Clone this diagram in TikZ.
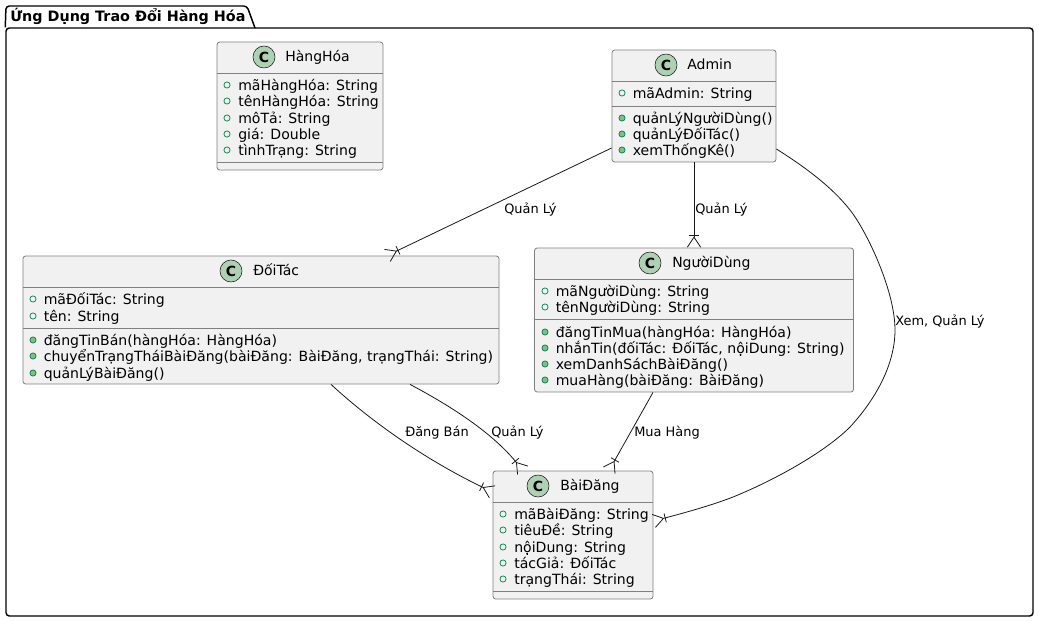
\documentclass[tikz,border=0pt]{standalone}
\usepackage{fontspec}
\setmainfont{DejaVu Sans}
\usetikzlibrary{arrows.meta,fit}
\definecolor{boxfill}{HTML}{F1F1F1}
\definecolor{boxline}{HTML}{808080}
\definecolor{inkline}{HTML}{181818}
\definecolor{badgefill}{HTML}{ADD1B2}
\definecolor{markgreen}{HTML}{038048}
\definecolor{markfill}{HTML}{84BE84}
\tikzset{
	classbox/.style={draw=boxline, fill=boxfill, line width=0.6pt, rounded corners=2pt, inner sep=0pt},
	divider/.style={boxline, line width=0.6pt},
	badge/.style={circle, draw=inkline, fill=badgefill, line width=0.4pt, minimum size=16.5pt, inner sep=0pt, font=\fontsize{10.5}{12}\selectfont\bfseries},
	classname/.style={anchor=west, inner sep=0pt, text height=8pt, text depth=2pt, font=\fontsize{10.5}{12}\selectfont},
	member/.style={anchor=west, inner sep=0pt, text height=8pt, text depth=2pt, font=\fontsize{10.55}{12}\selectfont},
	fieldmark/.style={circle, draw=markgreen, line width=0.55pt, minimum size=4.6pt, inner sep=0pt},
	methodmark/.style={circle, draw=markgreen, fill=markfill, line width=0.55pt, minimum size=4.6pt, inner sep=0pt},
	edgelabel/.style={anchor=west, inner sep=0pt, text height=7.5pt, text depth=2pt, font=\fontsize{9.7}{12}\selectfont},
	link/.style={inkline, line width=0.6pt, -{Bar[width=6.8pt,line width=0.6pt,sep=0.5pt]Straight Barb[reversed,length=7.5pt,width=10pt,line width=0.6pt]}},
}
\begin{document}
\begin{tikzpicture}[x=0.75pt, y=-0.75pt]
	\useasboundingbox (0,0) rectangle (1039,621);
	% package
	\node[draw=black, line width=1.1pt, rounded corners=2.5pt, inner sep=0pt, fit={(6,28) (1033,616)}] (package) {};
	\draw[black, line width=1.1pt, rounded corners=2.5pt] (package.north west) -- (6,6) -- (247,6) -- (255,28);
	\node[anchor=west, inner sep=0pt, font=\fontsize{10.75}{12}\selectfont\bfseries] (packagename) at (10,16) {Ứng Dụng Trao Đổi Hàng Hóa};
	% HangHoa
	\node[classbox, fit={(217,42) (383,170)}] (hanghoa) {};
	\node[badge] (hanghoaC) at (264,57) {C};
	\node[classname] (hanghoaT) at (285,57.5) {HàngHóa};
	\draw[divider] (hanghoa.west |- 0,73) -- (hanghoa.east |- 0,73);
	\draw[divider] (hanghoa.west |- 0,162) -- (hanghoa.east |- 0,162);
	\foreach \y/\txt in {85/mãHàngHóa: String, 101/tênHàngHóa: String, 118/môTả: String, 134/giá: Double, 150/tìnhTrạng: String} {
		\node[fieldmark] (hanghoaF\y) at (227,\y) {};
		\node[member] (hanghoaM\y) at (238,\y+1.2) {\txt};
	}
	% Admin
	\node[classbox, fit={(612,50) (776,162)}] (admin) {};
	\node[badge] (adminC) at (666,65) {C};
	\node[classname] (adminT) at (687,65.5) {Admin};
	\draw[divider] (admin.west |- 0,81) -- (admin.east |- 0,81);
	\draw[divider] (admin.west |- 0,106) -- (admin.east |- 0,106);
	\foreach \y/\txt in {93/mãAdmin: String} {
		\node[fieldmark] (adminF\y) at (622,\y) {};
		\node[member] (adminM\y) at (632.5,\y+1.2) {\txt};
	}
	\foreach \y/\txt in {118/quảnLýNgườiDùng(), 134/quảnLýĐốiTác(), 150/xemThốngKê()} {
		\node[methodmark] (adminF\y) at (622,\y) {};
		\node[member] (adminM\y) at (632.5,\y+1.2) {\txt};
	}
	% DoiTac
	\node[classbox, fit={(23,256) (499,384)}] (doitac) {};
	\node[badge] (doitacC) at (231,271) {C};
	\node[classname] (doitacT) at (253,271.5) {ĐốiTác};
	\draw[divider] (doitac.west |- 0,287) -- (doitac.east |- 0,287);
	\draw[divider] (doitac.west |- 0,328) -- (doitac.east |- 0,328);
	\foreach \y/\txt in {299/mãĐốiTác: String, 316/tên: String} {
		\node[fieldmark] (doitacF\y) at (33,\y) {};
		\node[member] (doitacM\y) at (43.5,\y+1.2) {\txt};
	}
	\foreach \y/\txt in {340/đăngTinBán(hàngHóa: HàngHóa), 356/{chuyểnTrạngTháiBàiĐăng(bàiĐăng: BàiĐăng, trạngThái: String)}, 373/quảnLýBàiĐăng()} {
		\node[methodmark] (doitacF\y) at (33,\y) {};
		\node[member] (doitacM\y) at (43.5,\y+1.2) {\txt};
	}
	% NguoiDung
	\node[classbox, fit={(534.5,248) (853.5,392)}] (nguoidung) {};
	\node[badge] (nguoidungC) at (650,263) {C};
	\node[classname] (nguoidungT) at (672,263.5) {NgườiDùng};
	\draw[divider] (nguoidung.west |- 0,279) -- (nguoidung.east |- 0,279);
	\draw[divider] (nguoidung.west |- 0,319) -- (nguoidung.east |- 0,319);
	\foreach \y/\txt in {291/mãNgườiDùng: String, 307/tênNgườiDùng: String} {
		\node[fieldmark] (nguoidungF\y) at (545,\y) {};
		\node[member] (nguoidungM\y) at (555.5,\y+1.2) {\txt};
	}
	\foreach \y/\txt in {332/đăngTinMua(hàngHóa: HàngHóa), 348/{nhắnTin(đốiTác: ĐốiTác, nộiDung: String)}, 364/xemDanhSáchBàiĐăng(), 380/muaHàng(bàiĐăng: BàiĐăng)} {
		\node[methodmark] (nguoidungF\y) at (545,\y) {};
		\node[member] (nguoidungM\y) at (555.5,\y+1.2) {\txt};
	}
	% BaiDang
	\node[classbox, fit={(493,471) (653,599)}] (baidang) {};
	\node[badge] (baidangC) at (538,486) {C};
	\node[classname] (baidangT) at (560,486.5) {BàiĐăng};
	\draw[divider] (baidang.west |- 0,502) -- (baidang.east |- 0,502);
	\draw[divider] (baidang.west |- 0,591) -- (baidang.east |- 0,591);
	\foreach \y/\txt in {514/mãBàiĐăng: String, 530/tiêuĐề: String, 547/nộiDung: String, 563/tácGiả: ĐốiTác, 579/trạngThái: String} {
		\node[fieldmark] (baidangF\y) at (503,\y) {};
		\node[member] (baidangM\y) at (514,\y+1.2) {\txt};
	}
	% links
	\draw[link] (admin.west |- 0,148) -- (doitac.north -| 387,0);
	\draw[link] (admin.south -| 694,0) -- (nguoidung.north -| 694,0);
	\draw[link] (admin.east |- 0,149) .. controls (805,167) and (832,187) .. (850,210) .. controls (866,230) and (895,290) .. (895,330) .. controls (895,365) and (875,400) .. (850,427) .. controls (825,452) and (775,480) .. (733,497) .. controls (710,506) and (680,514) .. (baidang.east |- 0,521);
	\draw[link] (doitac.south -| 331,0) .. controls (375,425) and (430,462) .. (baidang.west |- 0,492);
	\draw[link] (doitac.south -| 410,0) .. controls (445,403) and (490,430) .. (baidang.north -| 523,0);
	\draw[link] (nguoidung.south -| 653,0) -- (baidang.north -| 609,0);
	% labels
	\node[edgelabel] (labelA) at (504,210) {Quản Lý};
	\node[edgelabel] (labelB) at (695,210) {Quản Lý};
	\node[edgelabel] (labelC) at (895,322) {Xem, Quản Lý};
	\node[edgelabel] (labelD) at (405,433) {Đăng Bán};
	\node[edgelabel] (labelE) at (491,433) {Quản Lý};
	\node[edgelabel] (labelF) at (634,433) {Mua Hàng};
\end{tikzpicture}
\end{document}
